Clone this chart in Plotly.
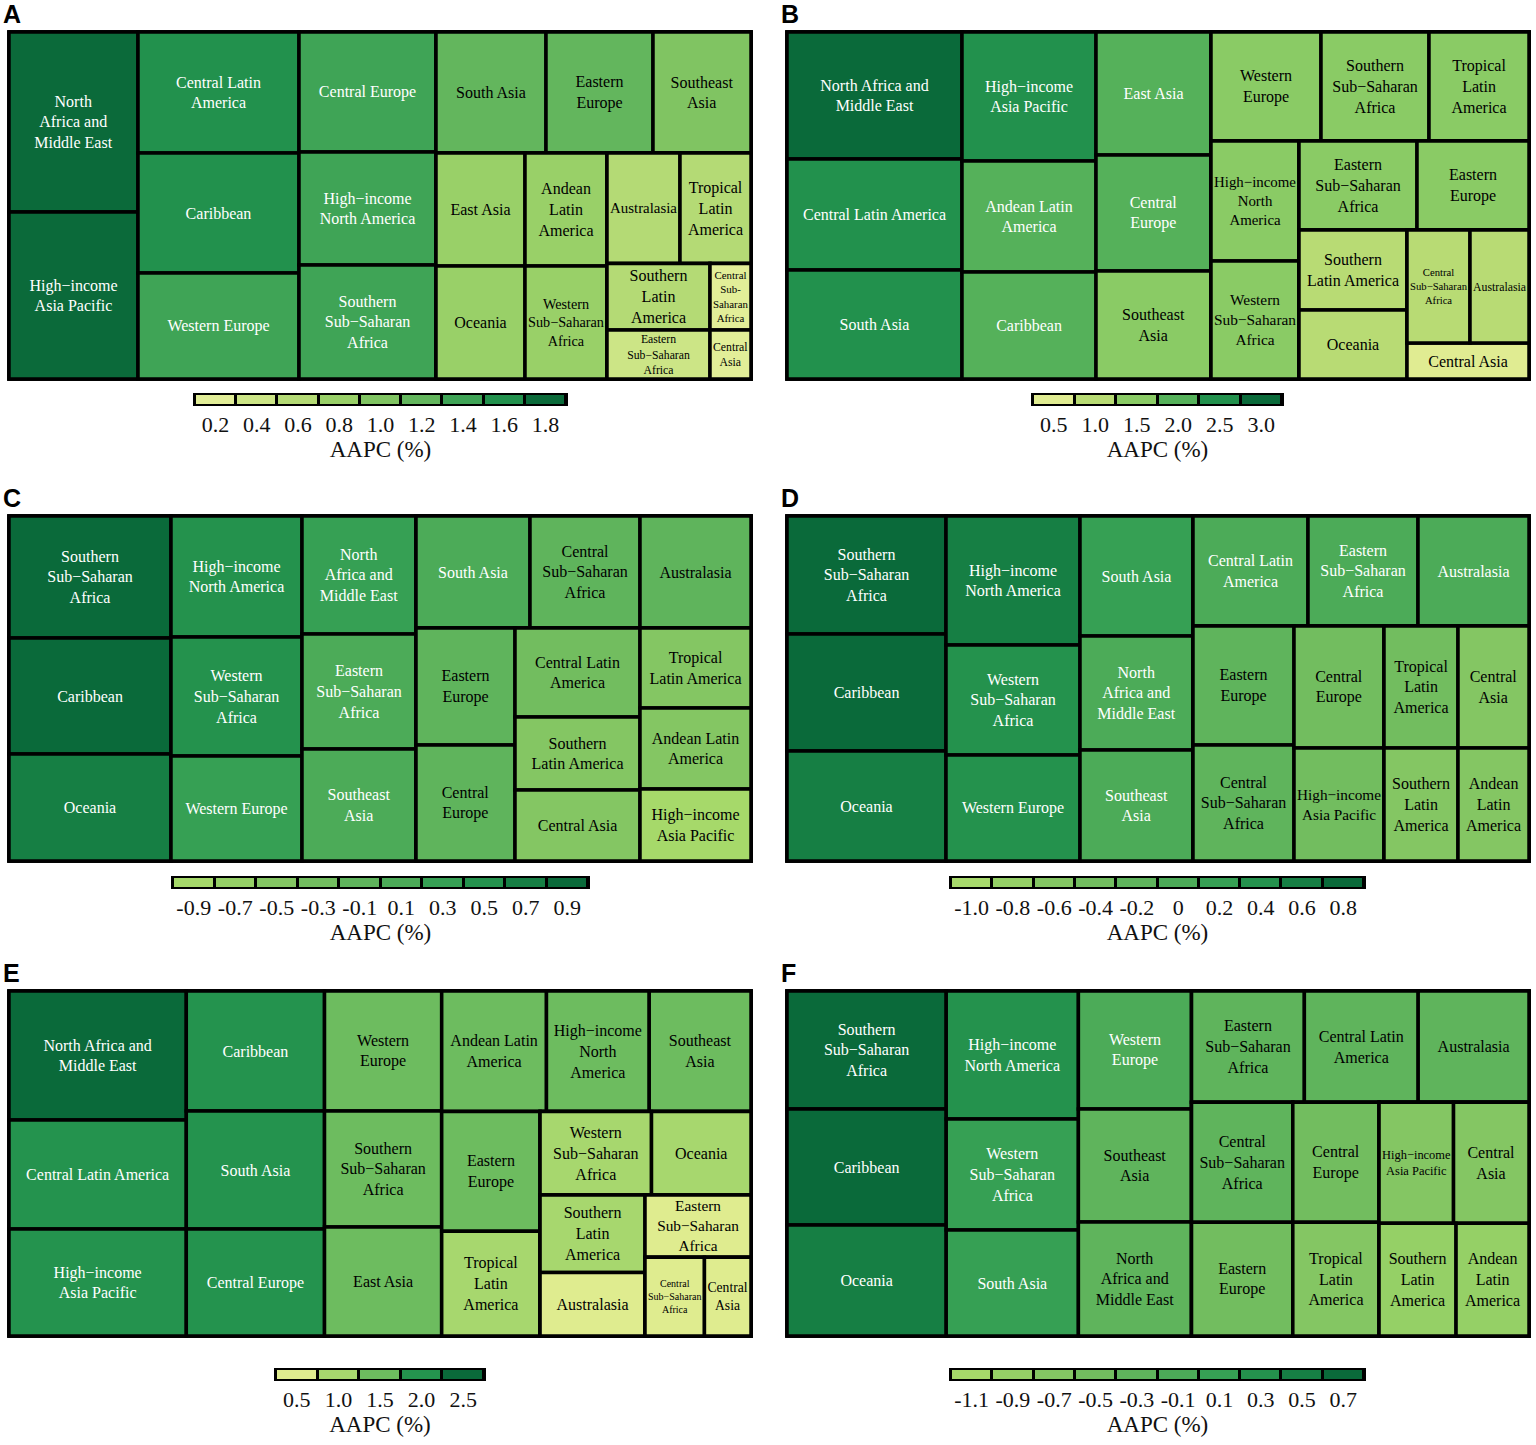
import plotly.graph_objects as go

FIG_W, FIG_H = 1536, 1445

CODES = ["NAME", "HIAP", "CLA", "CAR", "WE", "CE", "HINA", "SSSA", "SA", "EE", "SEA",
         "EA", "OCE", "ALA", "WSSA", "AUS", "TLA", "SLA", "ESSA", "CSSA", "CA"]
REGIONS = ["North Africa and Middle East", "High-income Asia Pacific", "Central Latin America",
           "Caribbean", "Western Europe", "Central Europe", "High-income North America",
           "Southern Sub-Saharan Africa", "South Asia", "Eastern Europe", "Southeast Asia",
           "East Asia", "Oceania", "Andean Latin America", "Western Sub-Saharan Africa",
           "Australasia", "Tropical Latin America", "Southern Latin America",
           "Eastern Sub-Saharan Africa", "Central Sub-Saharan Africa", "Central Asia"]

# ---- cell sizes (relative area), order = CODES ----
SIZE_A = [23220, 21543, 19481, 19320, 17066, 16440, 15481, 15618, 13310, 12947, 11858,
          10057, 10057, 9266, 9266, 8067, 7846, 6850, 5047, 2727, 2009]
SIZE_B = [22225, 17286, 19425, 14338, 11990, 13340, 10560, 11772, 19075, 9968, 12420,
          14145, 7452, 14874, 10384, 6667, 10900, 8640, 10502, 7119, 4392]
SIZE_C = [13452, 7992, 11125, 18792, 13755, 11484, 15851, 19764, 12768, 11583, 12768,
          None, 17334, 8991, 15589, 12432, 8880, 9125, 13110, 12320, 8875]
SIZE_D = [12882, 10170, 12650, 18603, 14204, 10980, 17286, 18762, 13560, 12019, 12543,
          None, 17490, 8023, 14740, 12210, 9028, 8362, 12100, 11716, 8662]
SIZE_E = [22833, 18939, 19293, 16560, 14040, 14766, 12360, 13572, 16284, 11760, 12240,
          12753, 8300, 12600, 9296, 6656, 10290, 8112, 6572, 4680, 3666]
SIZE_F = [12882, 9000, 12654, 18444, 13334, 10320, 16896, 18762, 13992, 11514, 12769,
          None, 17649, 8208, 14652, 12321, 9804, 8664, 12543, 12120, 9120]

# ---- AAPC (%) values, order = CODES ----
AAPC_A = [1.85, 1.72, 1.55, 1.54, 1.36, 1.31, 1.32, 1.31, 1.15, 1.12, 0.98,
          0.80, 0.80, 0.74, 0.73, 0.65, 0.62, 0.56, 0.39, 0.22, 0.15]
AAPC_B = [3.00, 2.33, 2.62, 1.94, 1.62, 1.80, 1.43, 1.59, 2.57, 1.34, 1.68,
          1.91, 1.01, 2.01, 1.40, 0.90, 1.47, 1.17, 1.39, 0.96, 0.59]
AAPC_C = [0.28, -0.88, -0.30, 0.85, 0.33, -0.16, 0.52, 0.92, 0.08, -0.12, 0.12,
          None, 0.72, -0.55, 0.48, -0.08, -0.52, -0.45, 0.15, -0.05, -0.50]
AAPC_D = [0.05, -0.36, 0.00, 0.78, 0.35, -0.32, 0.60, 0.82, 0.18, -0.14, 0.02,
          None, 0.66, -0.64, 0.42, -0.06, -0.45, -0.60, -0.03, -0.18, -0.52]
AAPC_E = [2.50, 2.07, 2.11, 1.85, 1.54, 1.80, 1.35, 1.49, 1.82, 1.29, 1.34,
          1.40, 0.91, 1.38, 1.02, 0.70, 1.13, 0.89, 0.72, 0.51, 0.40]
AAPC_F = [-0.24, -0.70, -0.29, 0.64, -0.12, -0.52, 0.32, 0.70, 0.02, -0.42, -0.22,
          None, 0.45, -0.90, 0.12, -0.33, -0.62, -0.88, -0.27, -0.36, -0.72]

# ---- arrangement of the cells (nested rows / columns as in the picture) ----
TREE_A = [["NAME", "HIAP"], ["CLA", "CAR", "WE"], ["CE", "HINA", "SSSA"],
          [["SA", "EE", "SEA"],
           [["EA", "OCE"], ["ALA", "WSSA"],
            [["AUS", "TLA"], [["SLA", "ESSA"], ["CSSA", "CA"]]]]]]
TREE_B = [["NAME", "CLA", "SA"], ["HIAP", "ALA", "CAR"], ["EA", "CE", "SEA"],
          [["WE", "SSSA", "TLA"],
           [["HINA", "WSSA"],
            [["ESSA", "EE"],
             [["SLA", "OCE"], [["CSSA", "AUS"], "CA"]]]]]]
TREE_C = [["SSSA", "CAR", "OCE"], ["HINA", "WSSA", "WE"], ["NAME", "ESSA", "SEA"],
          [["SA", "CSSA", "AUS"],
           [["EE", "CE"], ["CLA", "SLA", "CA"], ["TLA", "ALA", "HIAP"]]]]
TREE_D = [["SSSA", "CAR", "OCE"], ["HINA", "WSSA", "WE"], ["SA", "NAME", "SEA"],
          [["CLA", "ESSA", "AUS"],
           [["EE", "CSSA"], ["CE", "HIAP"], [["TLA", "CA"], ["SLA", "ALA"]]]]]
TREE_E = [["NAME", "CLA", "HIAP"], ["CAR", "SA", "CE"], ["WE", "SSSA", "EA"],
          [["ALA", "HINA", "SEA"],
           [["EE", "TLA"],
            [["WSSA", "OCE"],
             [["SLA", "AUS"], ["ESSA", ["CSSA", "CA"]]]]]]]
TREE_F = [["SSSA", "CAR", "OCE"], ["HINA", "WSSA", "SA"], ["WE", "SEA", "NAME"],
          [["ESSA", "CLA", "AUS"],
           [["CSSA", "EE"], ["CE", "TLA"], [["HIAP", "CA"], ["SLA", "ALA"]]]]]

# ---- wrapped labels as printed in each panel ----
M = "\u2212"
LABELS_A = {"NAME": "North<br>Africa and<br>Middle East", "HIAP": f"High{M}income<br>Asia Pacific",
            "CLA": "Central Latin<br>America", "CAR": "Caribbean", "WE": "Western Europe",
            "CE": "Central Europe", "HINA": f"High{M}income<br>North America",
            "SSSA": f"Southern<br>Sub{M}Saharan<br>Africa", "SA": "South Asia",
            "EE": "Eastern<br>Europe", "SEA": "Southeast<br>Asia", "EA": "East Asia",
            "OCE": "Oceania", "ALA": "Andean<br>Latin<br>America",
            "WSSA": f"Western<br>Sub{M}Saharan<br>Africa", "AUS": "Australasia",
            "TLA": "Tropical<br>Latin<br>America", "SLA": "Southern<br>Latin<br>America",
            "ESSA": f"Eastern<br>Sub{M}Saharan<br>Africa", "CSSA": "Central<br>Sub-<br>Saharan<br>Africa",
            "CA": "Central<br>Asia"}
LABELS_B = {"NAME": "North Africa and<br>Middle East", "HIAP": f"High{M}income<br>Asia Pacific",
            "CLA": "Central Latin America", "CAR": "Caribbean", "WE": "Western<br>Europe",
            "CE": "Central<br>Europe", "HINA": f"High{M}income<br>North<br>America",
            "SSSA": f"Southern<br>Sub{M}Saharan<br>Africa", "SA": "South Asia",
            "EE": "Eastern<br>Europe", "SEA": "Southeast<br>Asia", "EA": "East Asia",
            "OCE": "Oceania", "ALA": "Andean Latin<br>America",
            "WSSA": f"Western<br>Sub{M}Saharan<br>Africa", "AUS": "Australasia",
            "TLA": "Tropical<br>Latin<br>America", "SLA": "Southern<br>Latin America",
            "ESSA": f"Eastern<br>Sub{M}Saharan<br>Africa", "CSSA": f"Central<br>Sub{M}Saharan<br>Africa",
            "CA": "Central Asia"}
LABELS_C = {"NAME": "North<br>Africa and<br>Middle East", "HIAP": f"High{M}income<br>Asia Pacific",
            "CLA": "Central Latin<br>America", "CAR": "Caribbean", "WE": "Western Europe",
            "CE": "Central<br>Europe", "HINA": f"High{M}income<br>North America",
            "SSSA": f"Southern<br>Sub{M}Saharan<br>Africa", "SA": "South Asia",
            "EE": "Eastern<br>Europe", "SEA": "Southeast<br>Asia", "EA": "East Asia",
            "OCE": "Oceania", "ALA": "Andean Latin<br>America",
            "WSSA": f"Western<br>Sub{M}Saharan<br>Africa", "AUS": "Australasia",
            "TLA": "Tropical<br>Latin America", "SLA": "Southern<br>Latin America",
            "ESSA": f"Eastern<br>Sub{M}Saharan<br>Africa", "CSSA": f"Central<br>Sub{M}Saharan<br>Africa",
            "CA": "Central Asia"}
LABELS_D = {"NAME": "North<br>Africa and<br>Middle East", "HIAP": f"High{M}income<br>Asia Pacific",
            "CLA": "Central Latin<br>America", "CAR": "Caribbean", "WE": "Western Europe",
            "CE": "Central<br>Europe", "HINA": f"High{M}income<br>North America",
            "SSSA": f"Southern<br>Sub{M}Saharan<br>Africa", "SA": "South Asia",
            "EE": "Eastern<br>Europe", "SEA": "Southeast<br>Asia", "EA": "East Asia",
            "OCE": "Oceania", "ALA": "Andean<br>Latin<br>America",
            "WSSA": f"Western<br>Sub{M}Saharan<br>Africa", "AUS": "Australasia",
            "TLA": "Tropical<br>Latin<br>America", "SLA": "Southern<br>Latin<br>America",
            "ESSA": f"Eastern<br>Sub{M}Saharan<br>Africa", "CSSA": f"Central<br>Sub{M}Saharan<br>Africa",
            "CA": "Central<br>Asia"}
LABELS_E = {"NAME": "North Africa and<br>Middle East", "HIAP": f"High{M}income<br>Asia Pacific",
            "CLA": "Central Latin America", "CAR": "Caribbean", "WE": "Western<br>Europe",
            "CE": "Central Europe", "HINA": f"High{M}income<br>North<br>America",
            "SSSA": f"Southern<br>Sub{M}Saharan<br>Africa", "SA": "South Asia",
            "EE": "Eastern<br>Europe", "SEA": "Southeast<br>Asia", "EA": "East Asia",
            "OCE": "Oceania", "ALA": "Andean Latin<br>America",
            "WSSA": f"Western<br>Sub{M}Saharan<br>Africa", "AUS": "Australasia",
            "TLA": "Tropical<br>Latin<br>America", "SLA": "Southern<br>Latin<br>America",
            "ESSA": f"Eastern<br>Sub{M}Saharan<br>Africa", "CSSA": f"Central<br>Sub{M}Saharan<br>Africa",
            "CA": "Central<br>Asia"}
LABELS_F = {"NAME": "North<br>Africa and<br>Middle East", "HIAP": f"High{M}income<br>Asia Pacific",
            "CLA": "Central Latin<br>America", "CAR": "Caribbean", "WE": "Western<br>Europe",
            "CE": "Central<br>Europe", "HINA": f"High{M}income<br>North America",
            "SSSA": f"Southern<br>Sub{M}Saharan<br>Africa", "SA": "South Asia",
            "EE": "Eastern<br>Europe", "SEA": "Southeast<br>Asia", "EA": "East Asia",
            "OCE": "Oceania", "ALA": "Andean<br>Latin<br>America",
            "WSSA": f"Western<br>Sub{M}Saharan<br>Africa", "AUS": "Australasia",
            "TLA": "Tropical<br>Latin<br>America", "SLA": "Southern<br>Latin<br>America",
            "ESSA": f"Eastern<br>Sub{M}Saharan<br>Africa", "CSSA": f"Central<br>Sub{M}Saharan<br>Africa",
            "CA": "Central<br>Asia"}

# ---- legend bins ----
TICKS_A = [0.2, 0.4, 0.6, 0.8, 1.0, 1.2, 1.4, 1.6, 1.8]
TICKS_B = [0.5, 1.0, 1.5, 2.0, 2.5, 3.0]
TICKS_C = [-0.9, -0.7, -0.5, -0.3, -0.1, 0.1, 0.3, 0.5, 0.7, 0.9]
TICKS_D = [-1.0, -0.8, -0.6, -0.4, -0.2, 0.0, 0.2, 0.4, 0.6, 0.8]
TICKS_E = [0.5, 1.0, 1.5, 2.0, 2.5]
TICKS_F = [-1.1, -0.9, -0.7, -0.5, -0.3, -0.1, 0.1, 0.3, 0.5, 0.7]
TICKTEXT_A = ["0.2", "0.4", "0.6", "0.8", "1.0", "1.2", "1.4", "1.6", "1.8"]
TICKTEXT_B = ["0.5", "1.0", "1.5", "2.0", "2.5", "3.0"]
TICKTEXT_C = ["-0.9", "-0.7", "-0.5", "-0.3", "-0.1", "0.1", "0.3", "0.5", "0.7", "0.9"]
TICKTEXT_D = ["-1.0", "-0.8", "-0.6", "-0.4", "-0.2", "0", "0.2", "0.4", "0.6", "0.8"]
TICKTEXT_E = ["0.5", "1.0", "1.5", "2.0", "2.5"]
TICKTEXT_F = ["-1.1", "-0.9", "-0.7", "-0.5", "-0.3", "-0.1", "0.1", "0.3", "0.5", "0.7"]

COLORS_A = ["#e2ee98", "#cce586", "#b4da75", "#99d068", "#80c462", "#63b65d", "#3fa456", "#22914d", "#0b6a3a"]
COLORS_B = ["#e0ec92", "#b8db74", "#8acb65", "#55b15a", "#22914d", "#0a6a3a"]
COLORS_C = ["#a6d96a", "#95d066", "#84c663", "#72bd5f", "#5fb45c", "#4cab58", "#36a054", "#24924d", "#167f44", "#0a6a3a"]
COLORS_D = ["#a8da6c", "#95d066", "#84c663", "#72bd5f", "#5fb45c", "#4cab58", "#36a054", "#24924d", "#167f44", "#0a6a3a"]
COLORS_E = ["#dfec8f", "#a7d76e", "#6dbc5f", "#24934e", "#0a6a3a"]
COLORS_F = ["#a6d96a", "#95d066", "#84c663", "#72bd5f", "#5fb45c", "#4cab58", "#36a054", "#24924d", "#167f44", "#0a6a3a"]

# ---- page placement (pixels) ----
PANELS = [
    dict(key="A", sizes=SIZE_A, aapc=AAPC_A, labels=LABELS_A, tree=TREE_A, ticks=TICKS_A,
         ticktext=TICKTEXT_A, colors=COLORS_A, box=(9, 32, 751, 379), bar=(195, 395, 566, 404)),
    dict(key="B", sizes=SIZE_B, aapc=AAPC_B, labels=LABELS_B, tree=TREE_B, ticks=TICKS_B,
         ticktext=TICKTEXT_B, colors=COLORS_B, box=(787, 32, 1529, 379), bar=(1033, 395, 1282, 404)),
    dict(key="C", sizes=SIZE_C, aapc=AAPC_C, labels=LABELS_C, tree=TREE_C, ticks=TICKS_C,
         ticktext=TICKTEXT_C, colors=COLORS_C, box=(9, 516, 751, 861), bar=(173, 878, 588, 887)),
    dict(key="D", sizes=SIZE_D, aapc=AAPC_D, labels=LABELS_D, tree=TREE_D, ticks=TICKS_D,
         ticktext=TICKTEXT_D, colors=COLORS_D, box=(787, 516, 1529, 861), bar=(951, 878, 1364, 887)),
    dict(key="E", sizes=SIZE_E, aapc=AAPC_E, labels=LABELS_E, tree=TREE_E, ticks=TICKS_E,
         ticktext=TICKTEXT_E, colors=COLORS_E, box=(9, 991, 751, 1336), bar=(276, 1370, 484, 1379)),
    dict(key="F", sizes=SIZE_F, aapc=AAPC_F, labels=LABELS_F, tree=TREE_F, ticks=TICKS_F,
         ticktext=TICKTEXT_F, colors=COLORS_F, box=(787, 991, 1529, 1336), bar=(951, 1370, 1364, 1379)),
]


def px_x(v):
    return v / FIG_W


def px_y(v):
    return 1 - v / FIG_H


def brightness(hexcol):
    h = hexcol.lstrip("#")
    r, g, b = (int(h[k:k + 2], 16) for k in (0, 2, 4))
    return (r * 299 + g * 587 + b * 114) / 1000


fig = go.Figure()
annotations = []
layout_axes = {}

for n, p in enumerate(PANELS, start=1):
    ticks, colors = p["ticks"], p["colors"]
    step = ticks[1] - ticks[0]
    cmin, cmax = ticks[0] - step / 2, ticks[-1] + step / 2
    nb = len(colors)
    scale = []
    for i, c in enumerate(colors):
        scale.append([i / nb, c])
        scale.append([(i + 1) / nb, c])

    def bin_color(v):
        i = int((v - cmin) // step)
        return colors[max(0, min(nb - 1, i))]

    key = p["key"]
    ids, parents, values, cvals, texts, tcolors = [key], [""], [0], [cmin], [""], ["black"]

    def walk(node, pid, path):
        if isinstance(node, str):
            i = CODES.index(node)
            ids.append(f"{key}:{node}")
            parents.append(pid)
            values.append(p["sizes"][i])
            cvals.append(p["aapc"][i])
            texts.append(p["labels"][node])
            tcolors.append("white" if brightness(bin_color(p["aapc"][i])) < 143 else "black")
        else:
            gid = f"{key}:{path}"
            ids.append(gid)
            parents.append(pid)
            values.append(0)
            cvals.append(cmin)
            texts.append("")
            tcolors.append("black")
            for j, ch in enumerate(node):
                walk(ch, gid, f"{path}.{j}")

    for j, ch in enumerate(p["tree"]):
        walk(ch, key, f"g{j}")

    x0, y0, x1, y1 = p["box"]
    fig.add_trace(go.Treemap(
        ids=ids, labels=ids, parents=parents, values=values,
        branchvalues="remainder", sort=False,
        text=texts, texttemplate="%{text}", textposition="middle center",
        textfont=dict(family="Liberation Serif", size=16, color=tcolors),
        marker=dict(colors=cvals, colorscale=scale, cmin=cmin, cmax=cmax, showscale=False,
                    line=dict(color="black", width=3.5), pad=dict(t=0, l=0, r=0, b=0)),
        tiling=dict(packing="slice-dice", pad=0),
        pathbar=dict(visible=False),
        hoverinfo="skip",
        domain=dict(x=[px_x(x0), px_x(x1)], y=[px_y(y1), px_y(y0)]),
    ))

    # legend strip
    bx0, by0, bx1, by1 = p["bar"]
    xa = "x" if n == 1 else f"x{n}"
    ya = "y" if n == 1 else f"y{n}"
    fig.add_trace(go.Heatmap(
        z=[ticks], x=ticks, y=[0], zmin=cmin, zmax=cmax, colorscale=scale,
        showscale=False, xgap=3, hoverinfo="skip", xaxis=xa, yaxis=ya,
    ))
    xname = "xaxis" if n == 1 else f"xaxis{n}"
    yname = "yaxis" if n == 1 else f"yaxis{n}"
    layout_axes[xname] = dict(
        domain=[px_x(bx0), px_x(bx1)], anchor=ya, range=[cmin, cmax],
        tickmode="array", tickvals=ticks, ticktext=p["ticktext"],
        ticks="",
        tickfont=dict(family="Liberation Serif", size=22, color="#111"),
        showline=True, mirror=True, linewidth=2, linecolor="black",
        showgrid=False, zeroline=False, fixedrange=True,
        title=dict(text="AAPC (%)", font=dict(family="Liberation Serif", size=23, color="#111"),
                   standoff=0),
    )
    layout_axes[yname] = dict(
        domain=[px_y(by1), px_y(by0)], anchor=xa, range=[-0.5, 0.5],
        showline=True, mirror=True, linewidth=2, linecolor="black",
        showticklabels=False, ticks="", showgrid=False, zeroline=False, fixedrange=True,
    )

    annotations.append(dict(
        text=f"<b>{key}</b>", xref="paper", yref="paper",
        x=px_x(x0 - 8), y=px_y(y0 - 18), xanchor="left", yanchor="middle",
        showarrow=False, font=dict(family="Liberation Sans", size=25, color="black"),
    ))

fig.update_layout(
    width=FIG_W, height=FIG_H,
    margin=dict(l=0, r=0, t=0, b=0),
    paper_bgcolor="white", plot_bgcolor="black",
    showlegend=False, annotations=annotations,
    font=dict(family="Liberation Serif"),
    **layout_axes,
)

fig.write_html("out.html", config={"displayModeBar": False},
               post_script="document.body.style.margin='0px';")
